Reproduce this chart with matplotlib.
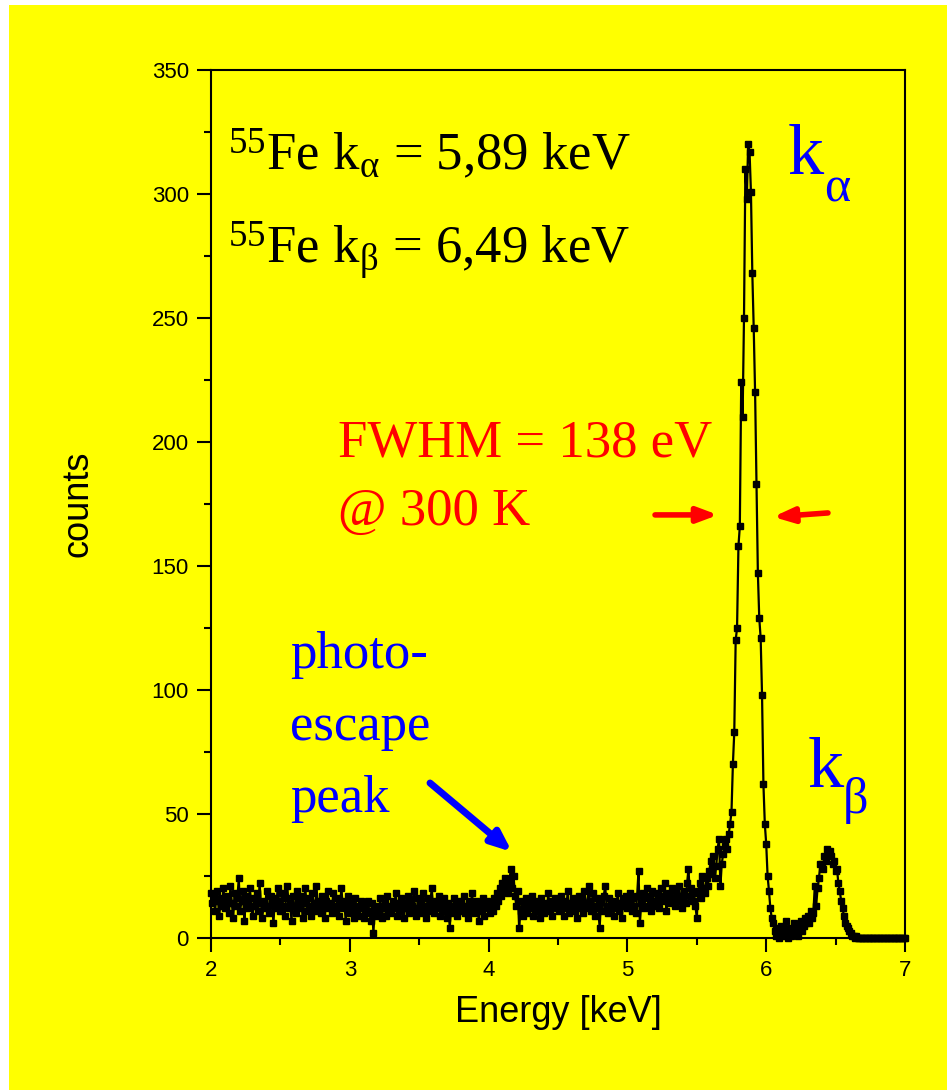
import numpy as np
import matplotlib.pyplot as plt
from matplotlib.patches import Rectangle

plt.rcParams['mathtext.fontset'] = 'custom'
plt.rcParams['mathtext.rm'] = 'Liberation Serif'
plt.rcParams['mathtext.it'] = 'Liberation Serif:italic'

# 55Fe spectrum, channel calibration 2.00 keV + 0.01 keV per channel
e_start = 2.0
e_step = 0.01
counts = [
    18, 14, 17, 11, 19, 15, 9, 16, 13, 20,     # 2.0
    12, 17, 15, 10, 21, 14, 8, 18, 13, 16,     # 2.1
    24, 11, 15, 19, 7, 14, 17, 12, 20, 13,     # 2.2
    9, 16, 13, 18, 11, 22, 14, 8, 15, 12,      # 2.3
    19, 13, 10, 17, 14, 6, 16, 12, 20, 15,     # 2.4
    11, 18, 13, 9, 16, 21, 12, 14, 7, 17,      # 2.5
    13, 10, 19, 15, 12, 17, 8, 14, 20, 11,     # 2.6
    16, 13, 9, 18, 14, 11, 21, 12, 15, 10,     # 2.7
    17, 13, 8, 15, 19, 12, 14, 10, 18, 13,     # 2.8
    11, 16, 9, 14, 20, 12, 15, 7, 13, 17,      # 2.9
    10, 14, 12, 8, 16, 11, 13, 9, 15, 12,      # 3.0
    8, 13, 10, 15, 11, 7, 14, 2, 12, 9,        # 3.1
    13, 10, 16, 8, 12, 14, 9, 17, 11, 13,      # 3.2
    10, 15, 12, 18, 9, 14, 11, 16, 13, 8,      # 3.3
    14, 12, 17, 10, 15, 13, 19, 11, 9, 16,     # 3.4
    12, 15, 10, 18, 13, 8, 16, 11, 14, 20,     # 3.5
    13, 10, 15, 12, 17, 9, 14, 11, 16, 12,     # 3.6
    8, 14, 4, 13, 10, 16, 12, 9, 15, 11,       # 3.7
    14, 12, 17, 10, 13, 8, 15, 11, 18, 13,     # 3.8
    10, 15, 12, 7, 14, 11, 16, 9, 13, 15,      # 3.9
    12, 10, 14, 11, 16, 13, 18, 15, 20, 17,    # 4.0
    22, 19, 24, 21, 18, 23, 28, 20, 25, 17,    # 4.1
    13, 19, 4, 11, 15, 9, 13, 16, 10, 14,      # 4.2
    12, 17, 9, 14, 11, 15, 13, 8, 16, 12,      # 4.3
    10, 14, 12, 18, 11, 15, 9, 13, 16, 12,     # 4.4
    14, 11, 17, 13, 9, 15, 12, 19, 10, 14,     # 4.5
    13, 16, 11, 14, 8, 17, 12, 15, 10, 19,     # 4.6
    14, 12, 21, 15, 11, 18, 13, 9, 16, 12,     # 4.7
    4, 15, 11, 17, 21, 13, 10, 16, 12, 14,     # 4.8
    9, 15, 12, 18, 11, 14, 8, 16, 13, 17,      # 4.9
    12, 15, 18, 11, 16, 13, 10, 17, 27, 6,     # 5.0
    14, 18, 12, 16, 20, 13, 17, 11, 19, 15,    # 5.1
    13, 18, 16, 12, 20, 15, 17, 22, 11, 16,    # 5.2
    18, 14, 20, 16, 13, 19, 15, 21, 17, 12,    # 5.3
    16, 19, 14, 22, 28, 17, 20, 15, 18, 13,    # 5.4
    8, 19, 22, 16, 25, 20, 18, 24, 21, 27,     # 5.5
    31, 26, 33, 24, 29, 36, 40, 21, 30, 34,    # 5.6
    37, 40, 36, 42, 46, 51, 70, 83, 120, 125,  # 5.7
    158, 166, 224, 210, 250, 310, 298, 320, 317, 301,  # 5.8
    268, 246, 220, 183, 147, 129, 121, 98, 62, 46,     # 5.9
    38, 25, 19, 12, 8, 6, 3, 1, 4, 0,          # 6.0
    2, 5, 1, 3, 7, 2, 0, 4, 1, 3,              # 6.1
    6, 2, 5, 1, 4, 7, 3, 5, 8, 6,              # 6.2
    9, 6, 11, 8, 10, 21, 13, 20, 24, 30,       # 6.3
    30, 28, 33, 31, 36, 34, 35, 33, 30, 31,    # 6.4
    27, 28, 22, 19, 15, 12, 9, 6, 5, 4,        # 6.5
    3, 2, 1, 1, 0, 1, 0, 0, 0, 0,              # 6.6
    0, 0, 0, 0, 0, 0, 0, 0, 0, 0,              # 6.7
    0, 0, 0, 0, 0, 0, 0, 0, 0, 0,              # 6.8
    0, 0, 0, 0, 0, 0, 0, 0, 0, 0,              # 6.9
    0,                                         # 7.0
]
energy = e_start + e_step * np.arange(len(counts))

xticks = [2, 3, 4, 5, 6, 7]
yticks = [0, 50, 100, 150, 200, 250, 300, 350]

yellow = '#ffff00'
fig = plt.figure(figsize=(9.47, 10.91), dpi=100, facecolor='white')
fig.patches.append(Rectangle((9 / 947, 1 - 1090 / 1091), 938 / 947, 1085 / 1091,
                             transform=fig.transFigure, facecolor=yellow,
                             edgecolor='none', zorder=-10))
ax = fig.add_axes([211 / 947, 1 - 938 / 1091, 694 / 947, 868 / 1091])
ax.set_facecolor(yellow)

ax.plot(energy, counts, color='black', linewidth=1.6, marker='s',
        markersize=5, clip_on=False, zorder=3)

ax.set_xlim(2, 7)
ax.set_ylim(0, 350)
ax.set_xticks(xticks)
ax.set_yticks(yticks)
ax.set_xticks(np.arange(2.5, 7, 1), minor=True)
ax.set_yticks(np.arange(25, 350, 50), minor=True)
for s in ax.spines.values():
    s.set_linewidth(1.5)
ax.tick_params(which='major', direction='out', length=10, width=1.5,
               labelsize=16, pad=6)
ax.tick_params(which='minor', direction='out', length=5, width=1.5)
for lab in ax.get_xticklabels() + ax.get_yticklabels():
    lab.set_family('Liberation Sans')
ax.set_xlabel('Energy [keV]', fontsize=26, family='Liberation Sans', labelpad=10)
ax.set_ylabel('counts', fontsize=26, family='Liberation Sans', labelpad=40)

serif = 'Liberation Serif'
ax.text(2.12, 309.7, r'$^{55}$Fe k$_{\mathrm{α}}$ = 5,89 keV', fontsize=38,
        family=serif, color='black')
ax.text(2.12, 272, r'$^{55}$Fe k$_{\mathrm{β}}$ = 6,49 keV', fontsize=38,
        family=serif, color='black')
ax.text(2.915, 194, 'FWHM = 138 eV', fontsize=38, family=serif, color='red')
ax.text(2.915, 166.5, '@ 300 K', fontsize=38, family=serif, color='red')

ax.text(6.157, 308, 'k', fontsize=52, family=serif, color='blue')
ax.text(6.42, 297, 'α', fontsize=36, family=serif, color='blue')
ax.text(6.30, 61, 'k', fontsize=52, family=serif, color='blue')
ax.text(6.55, 50.5, 'β', fontsize=36, family=serif, color='blue')

ax.text(2.569, 108.9, 'photo-', fontsize=38, family=serif, color='blue')
ax.text(2.569, 79.8, 'escape', fontsize=38, family=serif, color='blue')
ax.text(2.569, 50.8, 'peak', fontsize=38, family=serif, color='blue')

ax.annotate('', xy=(4.169, 34.7), xytext=(3.578, 62.5),
            arrowprops=dict(arrowstyle='-|>,head_length=1.2,head_width=0.5',
                            color='blue', lw=5, shrinkA=0, shrinkB=0))
ax.annotate('', xy=(5.653, 170.6), xytext=(5.199, 170.6),
            arrowprops=dict(arrowstyle='-|>,head_length=1.2,head_width=0.45',
                            color='red', lw=4, shrinkA=0, shrinkB=0))
ax.annotate('', xy=(6.05, 169.8), xytext=(6.445, 171.4),
            arrowprops=dict(arrowstyle='-|>,head_length=1.2,head_width=0.45',
                            color='red', lw=4, shrinkA=0, shrinkB=0))

fig.savefig('out.png', dpi=100, facecolor=fig.get_facecolor())
